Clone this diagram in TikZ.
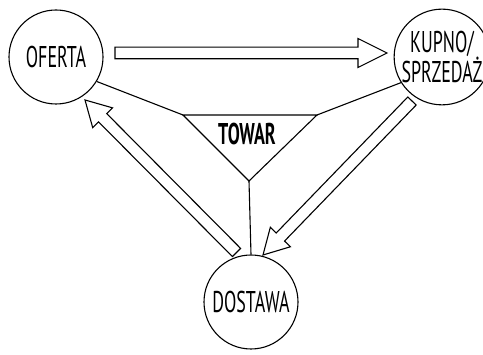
\documentclass[tikz,border=0pt]{standalone}
\usepackage{fontspec}
\usepackage{graphicx}
\setmainfont{PT Sans}
\usetikzlibrary{calc}

% narrow lettering for the labels
\newcommand\cond[1]{\scalebox{0.6}[1]{#1}}

% hollow block arrow from #1 (tail) to #2 (tip)
% #3 = shaft half width, #4 = head half width, #5 = head length
\newcommand\blockarrow[5]{%
  \coordinate (hb) at ($(#2)!#5!(#1)$);
  \draw[arrowline]
    ($(#1)!#3!90:(#2)$) -- ($(hb)!#3!90:(#2)$) -- ($(hb)!#4!90:(#2)$)
    -- (#2)
    -- ($(hb)!#4!-90:(#2)$) -- ($(hb)!#3!-90:(#2)$) -- ($(#1)!#3!-90:(#2)$)
    -- cycle;}

\tikzset{
  circ/.style={circle, draw, line width=1.1pt, minimum size=94pt, inner sep=0pt,
    font=\fontsize{30}{30}\selectfont, align=center},
  link/.style={line width=1.1pt},
  arrowline/.style={line width=1.1pt, line join=miter, fill=white},
  tri/.style={line width=1.1pt, line join=miter},
}

\begin{document}
\begin{tikzpicture}[x=1pt, y=-1pt]
  \useasboundingbox (0,0) rectangle (483,355);

  % three stages of the exchange
  \node[circ] (oferta)  at (56,57)   {\cond{OFERTA}};
  \node[circ] (kupno)   at (442,57)  {\cond{KUPNO/}\\\cond{SPRZEDAŻ}};
  \node[circ] (dostawa) at (251,302) {\cond{DOSTAWA}};

  % goods in the middle
  \coordinate (tl) at (183,115);
  \coordinate (tr) at (317,115);
  \coordinate (tb) at (249,181);
  \draw[tri] (tl) -- (tr) -- (tb) -- cycle;
  \node[font=\fontsize{30}{30}\selectfont\bfseries] (towar) at (247,134) {\cond{TOWAR}};

  % ties between the goods and each stage
  \draw[link] (oferta.-31) -- (tl);
  \draw[link] (kupno.212) -- (tr);
  \draw[link] (tb) -- (dostawa.north);

  % flow of the cycle
  \coordinate (a1s) at (115,53);
  \coordinate (a1e) at (387,53);
  \blockarrow{a1s}{a1e}{5.8pt}{14.5pt}{29pt}

  \coordinate (a2s) at (412,101);
  \coordinate (a2e) at (263,255);
  \blockarrow{a2s}{a2e}{5.8pt}{14pt}{25pt}

  \coordinate (a3s) at (236.5,252.5);
  \coordinate (a3e) at (85,100);
  \blockarrow{a3s}{a3e}{5.8pt}{14pt}{25pt}
\end{tikzpicture}
\end{document}
